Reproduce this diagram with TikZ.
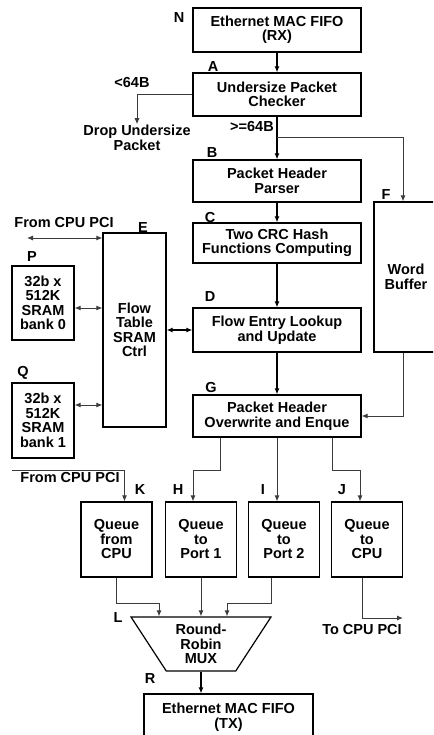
\documentclass[tikz,border=0pt]{standalone}
\usepackage{fontspec}
\setmainfont{Liberation Sans}
\usepackage{tikz}
\usetikzlibrary{arrows.meta, positioning, calc, shapes.geometric}
\definecolor{wiregray}{RGB}{60,60,60}

\begin{document}
\begin{tikzpicture}[
    x=1pt, y=-1pt,
    >={Latex[length=6pt, width=5pt]},
    every node/.style={font=\fontsize{14.5}{14.5}\selectfont\bfseries},
    box/.style={draw, line width=1.2pt, align=center, inner sep=0pt, minimum width=168pt},
    tall/.style={draw, line width=1.2pt, align=center, inner sep=0pt},
    queue/.style={tall, minimum width=71pt, minimum height=75pt},
    tag/.style={inner sep=0pt},
    txt/.style={align=center, inner sep=1pt},
    main/.style={->, line width=1.8pt},
    wire/.style={->, line width=0.9pt, wiregray},
]
    \useasboundingbox (0,0) rectangle (433,735);
    \clip (0,0) rectangle (433,735);

    % receive path
    \node[box, minimum height=44pt] (n) at (277,30) {Ethernet MAC FIFO\\(RX)};
    \node[box, minimum height=43pt] (a) at (277,94.5) {Undersize Packet\\Checker};
    \node[box, minimum height=42pt] (b) at (277,181) {Packet Header\\Parser};
    \node[box, minimum height=40pt] (c) at (277,243) {Two CRC Hash\\Functions Computing};
    \node[box, minimum height=44pt] (d) at (277,330) {Flow Entry Lookup\\and Update};
    \node[box, minimum height=42pt] (g) at (277,416) {Packet Header\\Overwrite and Enque};
    \node[tall, minimum width=64pt, minimum height=150pt] (f) at (406,277) {Word\\Buffer};

    % flow table and SRAM banks
    \node[tall, minimum width=63pt, minimum height=194pt] (e) at (134.5,330) {Flow\\Table\\SRAM\\Ctrl};
    \node[tall, minimum width=62pt, minimum height=74pt] (p) at (43,303) {32b x\\512K\\SRAM\\bank 0};
    \node[tall, minimum width=62pt, minimum height=75pt] (q) at (43,420.5) {32b x\\512K\\SRAM\\bank 1};

    % queues, mux and transmit
    \node[queue] (k) at (116.5,539.5) {Queue\\from\\CPU};
    \node[queue] (h) at (201,539.5) {Queue\\to\\Port 1};
    \node[queue] (i) at (284,539.5) {Queue\\to\\Port 2};
    \node[queue] (j) at (367,539.5) {Queue\\to\\CPU};
    \node[tall, trapezium, trapezium stretches=true, trapezium angle=57, shape border rotate=180,
          minimum width=140pt, minimum height=54pt] (mux) at (201,644) {Round-\\Robin\\MUX};
    \node[box, minimum width=169pt, minimum height=46pt] (tx) at (228.5,717) {Ethernet MAC FIFO\\(TX)};

    % free texts
    \node[txt] (lt64) at (132,83) {\textless64B};
    \node[txt] (drop) at (137,138) {Drop Undersize\\Packet};
    \node[txt] (ge64) at (252,127) {\textgreater=64B};
    \node[txt] (pcitop) at (64,223) {From CPU PCI};
    \node[txt] (pcibot) at (70,478) {From CPU PCI};
    \node[txt] (topci) at (362,630) {To CPU PCI};

    % letter tags
    \node[tag] (tn) at (179,18) {N};
    \node[tag] (ta) at (213,67) {A};
    \node[tag] (tb) at (212,153) {B};
    \node[tag] (tc) at (210,218) {C};
    \node[tag] (td) at (210,297) {D};
    \node[tag] (tg) at (211,388) {G};
    \node[tag] (tf) at (386,195) {F};
    \node[tag] (te) at (143,228) {E};
    \node[tag] (tp) at (32,257) {P};
    \node[tag] (tq) at (23,373) {Q};
    \node[tag] (tk) at (140,490) {K};
    \node[tag] (th) at (178,490) {H};
    \node[tag] (ti) at (263,490) {I};
    \node[tag] (tj) at (342,490) {J};
    \node[tag] (tl) at (118,618) {L};
    \node[tag] (tr) at (150,679) {R};

    % main chain
    \draw[main] (n) -- (a);
    \draw[main] (a) -- (b);
    \draw[main] (b) -- (c);
    \draw[main] (c) -- (d);
    \draw[main] (d) -- (g);
    \draw[main, <->] (d.west) -- (d.west -| e.east);

    % side paths
    \draw[wire] (a.west) -| (drop.north);
    \draw[wire] ($(a.south)+(0,21)$) -| ([xshift=-3pt]f.north);
    \draw[wire] ([xshift=-3pt]f.south) |- (g.east);
    \coordinate (cpuin) at (27,238);
    \draw[wire, <->] (cpuin) -- (cpuin -| e.west);
    \draw[wire, <->] ([yshift=-5pt]p.east) -- ([yshift=-5pt]p.east -| e.west);
    \draw[wire, <->] ([yshift=15.5pt]q.east) -- ([yshift=15.5pt]q.east -| e.west);

    % into the queues
    \coordinate (cpuq) at (12,470);
    \draw[wire] (cpuq) -| ([xshift=8pt]k.north);
    \draw[wire] ([xshift=-57pt]g.south) -- ++(0,33) -| ([xshift=-8pt]h.north);
    \draw[wire] (g.south) -- (g.south |- i.north);
    \draw[wire] ([xshift=55pt]g.south) -- ++(0,33) -| ([xshift=-7pt]j.north);

    % out of the queues
    \draw[wire] (k.south) -- ++(0,26) -| ([xshift=-42pt]mux.north);
    \draw[wire] (h.south) -- (h.south |- mux.north);
    \draw[wire] ([xshift=-13pt]i.south) -- ++(0,26) -| ([xshift=26pt]mux.north);
    \coordinate (cpuout) at (403,618);
    \draw[wire] ([xshift=-5pt]j.south) |- (cpuout);
    \draw[main] (mux.south) -- (mux.south |- tx.north);
\end{tikzpicture}
\end{document}
